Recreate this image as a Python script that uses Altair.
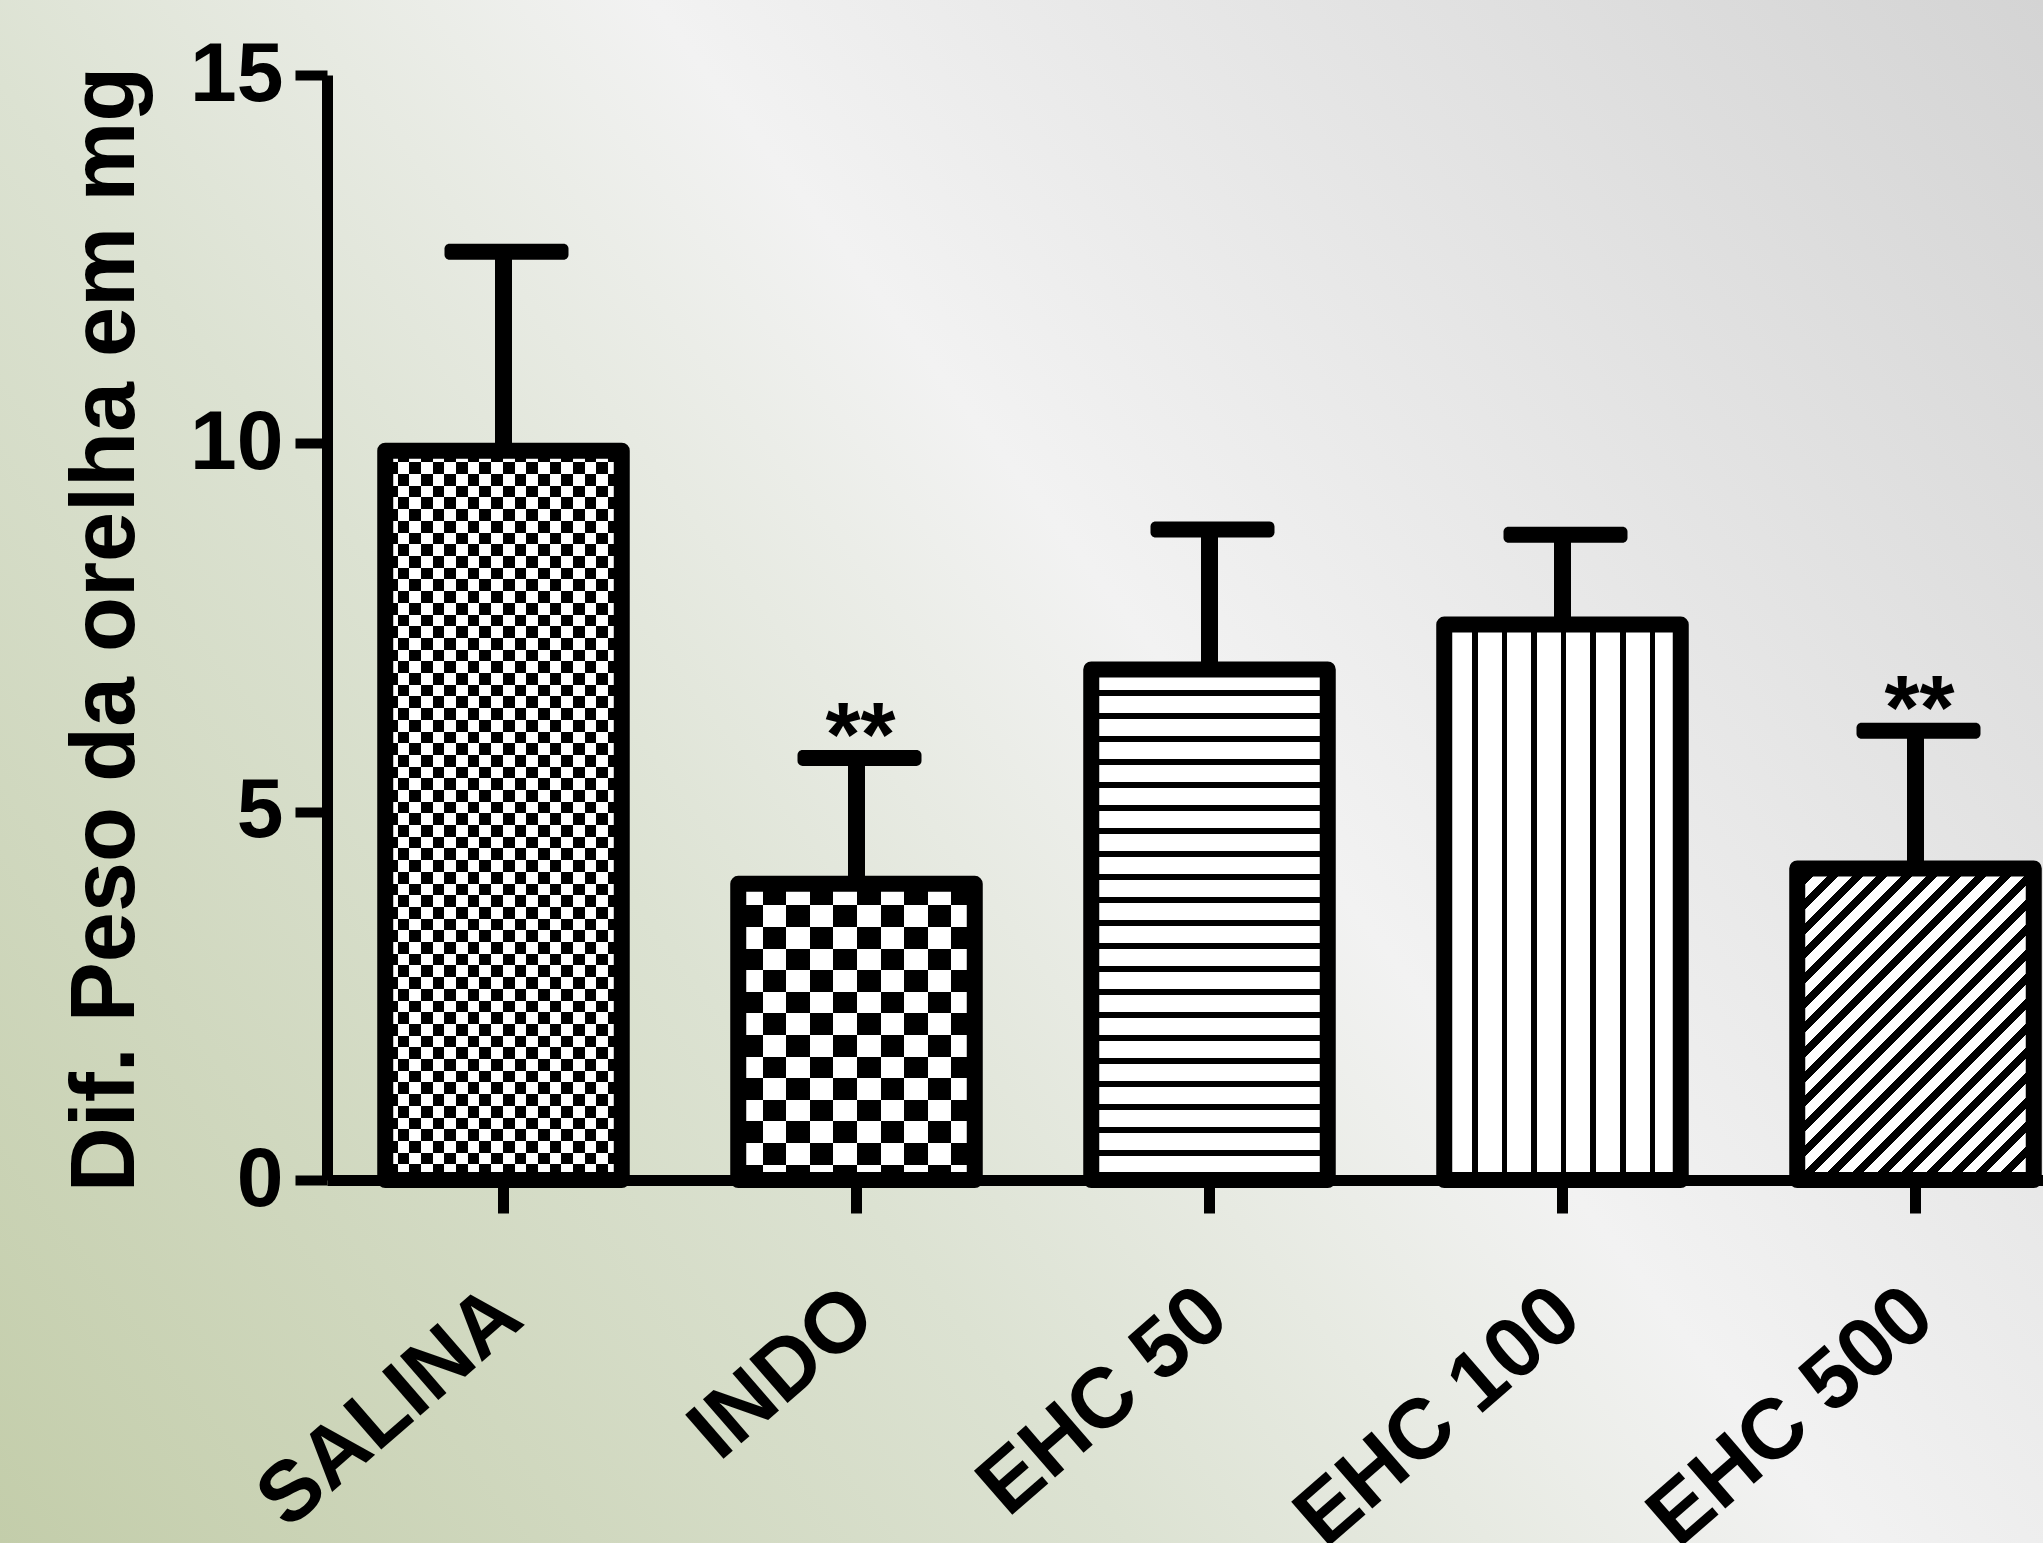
import math
import altair as alt
import pandas as pd

# ---------------- data ----------------
categories = ["SALINA", "INDO", "EHC 50", "EHC 100", "EHC 500"]
means = [9.9, 4.02, 6.93, 7.54, 4.23]
upper = [12.6, 5.73, 8.83, 8.76, 6.1]
signif = ["", "**", "", "", "**"]
y_ticks = [0, 5, 10, 15]
y_title = "Dif. Peso da orelha em mg"

# ---------------- layout / style ----------------
FONT = "Liberation Sans"
W_IMG, H_IMG = 2043, 1543
PAD_L, PAD_T, PAD_B = 327, 75, 363
PLOT_W = W_IMG - PAD_L
PLOT_H = H_IMG - PAD_T - PAD_B
Y_MAX = 15
X_RANGE = 1765
P_IN, P_OUT = 0.33, 0.165
STEP = X_RANGE / (len(categories) - P_IN + 2 * P_OUT)
BAR_W = STEP * (1 - P_IN)
PX_PER_UNIT = PLOT_H / Y_MAX


def stripe_stops(length, period, start, dark_len, dark="#000000", light="#ffffff"):
    """Hard-edged stripes along a gradient axis of `length` pixels."""
    intervals = []
    s = start - (math.floor(start / period) + 1) * period
    while s < length:
        a, b = max(s, 0.0), min(s + dark_len, length)
        if b > a:
            intervals.append((a, b))
        s += period
    first_dark = bool(intervals) and intervals[0][0] <= 0
    stops = [alt.GradientStop(offset=0, color=dark if first_dark else light)]
    for a, b in intervals:
        oa, ob = round(a / length, 5), round(b / length, 5)
        if a > 0:
            stops.append(alt.GradientStop(offset=oa, color=light))
            stops.append(alt.GradientStop(offset=oa, color=dark))
        stops.append(alt.GradientStop(offset=ob, color=dark))
        if b < length:
            stops.append(alt.GradientStop(offset=ob, color=light))
    last_dark = bool(intervals) and intervals[-1][1] >= length
    stops.append(alt.GradientStop(offset=1, color=dark if last_dark else light))
    return stops


def horiz(h, period, start, dark_len):
    return alt.LinearGradient(gradient="linear", x1=0, y1=0, x2=0, y2=1,
                              stops=stripe_stops(h, period, start, dark_len))


def vert(w, period, start, dark_len):
    return alt.LinearGradient(gradient="linear", x1=0, y1=0, x2=1, y2=0,
                              stops=stripe_stops(w, period, start, dark_len))


def diag(w, h, period_c, start, dark_len):
    r = h / w
    a = (1 + r) / (1 + r * r)
    return alt.LinearGradient(gradient="linear", x1=0, y1=0, x2=round(a, 5), y2=round(a * r, 5),
                              stops=stripe_stops(w + h, period_c, start, dark_len))


heights = [v * PX_PER_UNIT for v in means]

df = pd.DataFrame({"cat": categories, "mean": means, "upper": upper, "sig": signif})

x_axis = alt.Axis(
    title=None, labelAngle=319, labelAlign="right", labelBaseline="middle",
    labelFont=FONT, labelFontSize=85, labelFontWeight="bold", labelColor="black",
    labelPadding=90, labelOffset=6, labelLimit=2000, labelOverlap=False, labelFlush=False,
    tickSize=33, tickWidth=11, tickColor="black",
    domainColor="black", domainWidth=11, grid=False, zindex=1,
)
y_axis = alt.Axis(
    values=y_ticks, format="d", title=y_title,
    titleFont=FONT, titleFontSize=90, titleFontWeight="bold", titleColor="black",
    titleAngle=270, titleX=-194, titleY=554, titleAlign="center",
    titleBaseline="alphabetic", titleLimit=3000,
    labelFont=FONT, labelFontSize=84, labelFontWeight="bold", labelColor="black",
    labelPadding=12, labelOverlap=False, labelFlush=False,
    tickSize=32, tickWidth=10, tickColor="black",
    domainColor="black", domainWidth=11, grid=False, zindex=1,
)
x_scale = alt.Scale(domain=categories, range=[0, X_RANGE], paddingInner=P_IN, paddingOuter=P_OUT)
y_scale = alt.Scale(domain=[0, Y_MAX], nice=False, zero=True)


def X():
    return alt.X("cat:N", sort=categories, scale=x_scale, axis=x_axis)


def Y(field):
    return alt.Y(f"{field}:Q", scale=y_scale, axis=y_axis)


base = alt.Chart(df)

# background gradient (green bottom-left -> white -> grey top-right)
bg_grad = alt.LinearGradient(
    gradient="linear", x1=0, y1=1, x2=1.181, y2=0.309,
    stops=[
        alt.GradientStop(offset=0, color="#c3cdaa"),
        alt.GradientStop(offset=0.35, color="#dce2d2"),
        alt.GradientStop(offset=0.57, color="#f2f2f2"),
        alt.GradientStop(offset=1, color="#d4d4d4"),
    ],
)
background = alt.Chart(pd.DataFrame({"bg": [0]})).mark_rect(fill=bg_grad, opacity=1).encode(
    x=alt.value(-PAD_L), x2=alt.value(PLOT_W), y=alt.value(-PAD_T), y2=alt.value(PLOT_H + PAD_B)
)

# pattern fills
fills = {
    "SALINA": horiz(heights[0], 23.4, 11.7, 11.7),
    "INDO": horiz(heights[1], 43.2, 21.6, 21.6),
    "EHC 50": horiz(heights[2], 23.0, 21.0, 5.5),
    "EHC 100": vert(BAR_W, 29.6, 27.7, 5.7),
    "EHC 500": diag(BAR_W, heights[4], 24.7, 13.0, 11.0),
}
overlays = {
    "SALINA": vert(BAR_W, 23.4, 0.6, 11.7),
    "INDO": vert(BAR_W, 47.2, 0.7, 23.6),
}

layers = [background]
for c in categories:
    layers.append(
        base.transform_filter(alt.datum.cat == c)
        .mark_bar(fill=fills[c], strokeWidth=0, opacity=1)
        .encode(x=X(), y=Y("mean"))
    )
for c, g in overlays.items():
    layers.append(
        base.transform_filter(alt.datum.cat == c)
        .mark_bar(fill=g, strokeWidth=0, opacity=1, blend="difference")
        .encode(x=X(), y=Y("mean"))
    )

outline = base.mark_bar(fillOpacity=0, stroke="black", strokeWidth=16, strokeJoin="round", opacity=1).encode(
    x=X(), y=Y("mean")
)
err = base.mark_rule(color="black", strokeWidth=17, opacity=1).encode(x=X(), y=Y("mean"), y2="upper:Q")
caps = base.mark_tick(color="black", thickness=16, size=124, cornerRadius=5, xOffset=3, opacity=1).encode(
    x=X(), y=Y("upper")
)
stars = base.mark_text(
    font=FONT, fontSize=90, fontWeight="bold", color="black", baseline="alphabetic", align="center", dy=8, dx=4
).encode(x=X(), y=Y("upper"), text="sig:N")

layers += [outline, err, caps, stars]

chart = (
    alt.layer(*layers)
    .properties(
        width=PLOT_W, height=PLOT_H,
        padding={"left": PAD_L, "top": PAD_T, "right": 0, "bottom": PAD_B},
        autosize=alt.AutoSizeParams(type="none"),
        background="#e6e8e0",
    )
    .configure_view(strokeWidth=0)
)

chart.save("out.html", embed_options={"renderer": "svg", "actions": False})
